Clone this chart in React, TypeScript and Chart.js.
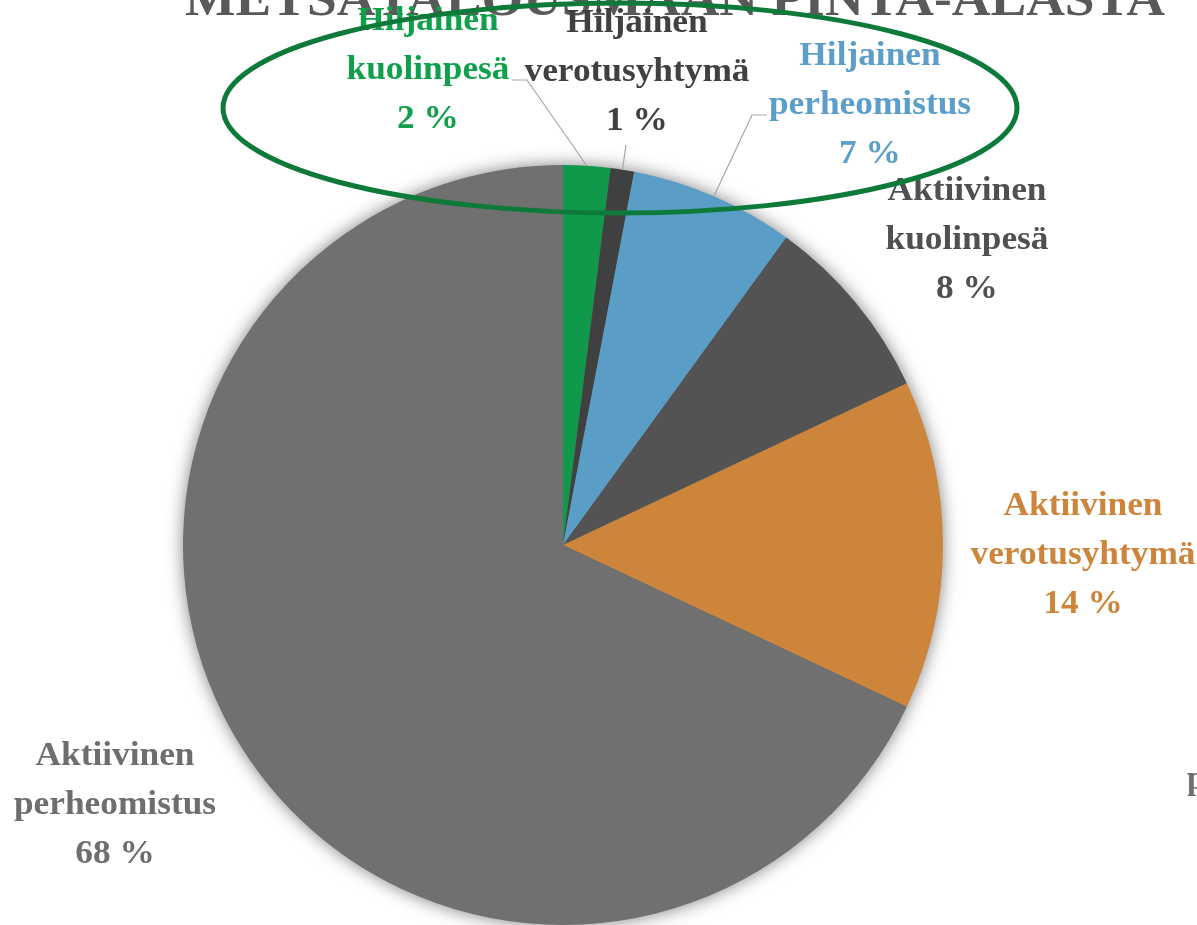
import React, { useEffect, useRef } from "react";
import { Chart, registerables } from "chart.js";

Chart.register(...registerables);

const titleText = "METSÄTALOUSMAAN PINTA-ALASTA";
const categories = [
  "Hiljainen kuolinpesä",
  "Hiljainen verotusyhtymä",
  "Hiljainen perheomistus",
  "Aktiivinen kuolinpesä",
  "Aktiivinen verotusyhtymä",
  "Aktiivinen perheomistus",
];
const shares = [2, 1, 7, 8, 14, 68];
const sliceColors = ["#10994a", "#404040", "#5a9dc6", "#535353", "#cd853c", "#707070"];
const labelColors = ["#10a04b", "#404040", "#5b9ec9", "#505050", "#cd853c", "#6e6e6e"];
// layout: centre of first label line for each slice
const labelCenters: [number, number][] = [
  [428, 21],
  [637, 23],
  [870, 56],
  [967, 191],
  [1083, 506],
  [115, 756],
];
// layout: leader line anchor (x, y, horizontal tail end x) or null
const leaders: ([number, number, number] | null)[] = [
  [527, 80, 512],
  [626, 145, 626],
  [752, 115, 767],
  null,
  null,
  null,
];

const FONT = "'Liberation Serif', 'DejaVu Serif', serif";

const decorPlugin = {
  id: "decor",
  beforeDatasetsDraw(chart: any) {
    const ctx = chart.ctx;
    const arc = chart.getDatasetMeta(0).data[0];
    if (!arc) return;
    const { x, y, outerRadius } = arc.getProps(["x", "y", "outerRadius"], true);
    // title (partly cut at top)
    ctx.save();
    ctx.font = `bold 50px ${FONT}`;
    ctx.fillStyle = "#595959";
    ctx.textBaseline = "alphabetic";
    const w = ctx.measureText(titleText).width;
    const sx = 980 / w;
    ctx.translate(185, 15);
    ctx.scale(sx, 1);
    ctx.fillText(titleText, 0, 0);
    ctx.restore();
    // soft shadow behind pie
    ctx.save();
    ctx.shadowColor = "rgba(0,0,0,0.55)";
    ctx.shadowBlur = 18;
    ctx.fillStyle = "#707070";
    ctx.beginPath();
    ctx.arc(x, y, outerRadius - 1, 0, Math.PI * 2);
    ctx.fill();
    ctx.restore();
  },
  afterDatasetsDraw(chart: any) {
    const ctx = chart.ctx;
    const meta = chart.getDatasetMeta(0);
    ctx.save();
    // leader lines
    ctx.strokeStyle = "#a6a6a6";
    ctx.lineWidth = 1.2;
    meta.data.forEach((el: any, i: number) => {
      const ld = leaders[i];
      if (!ld) return;
      const p = el.getProps(["x", "y", "startAngle", "endAngle", "outerRadius"], true);
      const mid = (p.startAngle + p.endAngle) / 2;
      const ex = p.x + Math.cos(mid) * p.outerRadius;
      const ey = p.y + Math.sin(mid) * p.outerRadius;
      ctx.beginPath();
      ctx.moveTo(ex, ey);
      ctx.lineTo(ld[0], ld[1]);
      ctx.lineTo(ld[2], ld[1]);
      ctx.stroke();
    });
    // labels
    ctx.font = `bold 33px ${FONT}`;
    ctx.textAlign = "center";
    ctx.textBaseline = "middle";
    categories.forEach((c, i) => {
      const lines = [...c.split(" "), `${shares[i]} %`];
      const [cx, cy] = labelCenters[i];
      ctx.fillStyle = labelColors[i];
      lines.forEach((t, k) => {
        ctx.save();
        ctx.translate(cx, cy + k * 49);
        ctx.scale(1.07, 1);
        ctx.fillText(t, 0, 0);
        ctx.restore();
      });
    });
    // clipped fragment at right edge
    ctx.textAlign = "left";
    ctx.textBaseline = "alphabetic";
    ctx.fillStyle = "#6e6e6e";
    ctx.fillText("p", 1187, 789);
    // green highlight ellipse
    ctx.strokeStyle = "#0e7a3a";
    ctx.lineWidth = 5;
    ctx.beginPath();
    ctx.ellipse(620, 108, 397, 105, 0, 0, Math.PI * 2);
    ctx.stroke();
    ctx.restore();
  },
};

export default function App() {
  const ref = useRef<HTMLCanvasElement>(null);
  useEffect(() => {
    document.body.style.margin = "0";
    const chart = new Chart(ref.current as HTMLCanvasElement, {
      type: "pie",
      data: {
        labels: categories,
        datasets: [
          {
            data: shares,
            backgroundColor: sliceColors,
            borderWidth: 0,
          },
        ],
      },
      options: {
        responsive: false,
        animation: false,
        layout: { padding: { left: 183, right: 254, top: 165, bottom: 0 } },
        plugins: {
          legend: { display: false },
          tooltip: { enabled: false },
          title: { display: false },
        },
      },
      plugins: [decorPlugin],
    });
    return () => chart.destroy();
  }, []);
  return (
    <div style={{ width: 1197, height: 925, background: "#fff" }}>
      <canvas ref={ref} width={1197} height={925} style={{ display: "block" }} />
    </div>
  );
}
